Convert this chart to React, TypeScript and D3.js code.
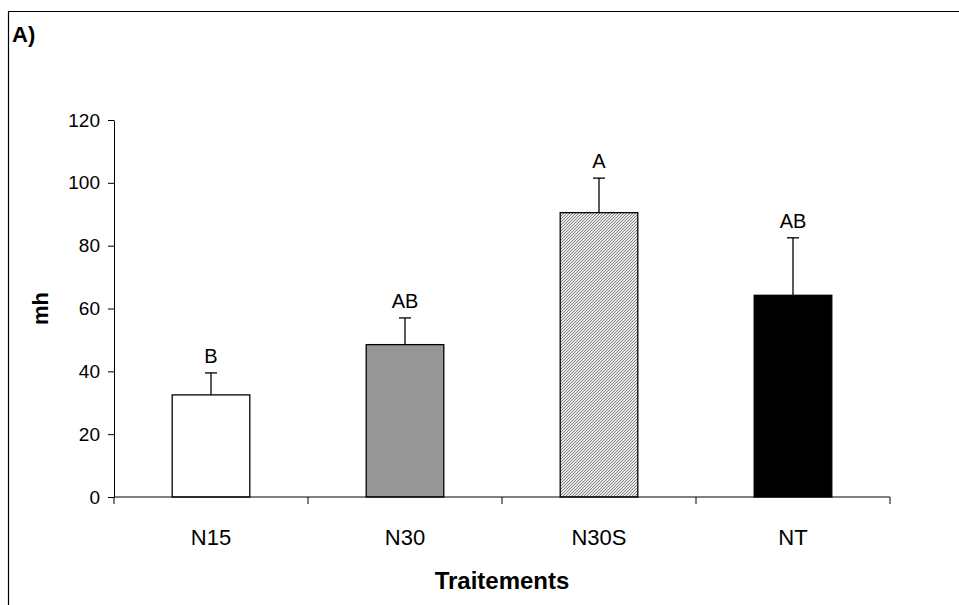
import React, { useEffect, useRef } from 'react';
import * as d3 from 'd3';

const categories = ['N15', 'N30', 'N30S', 'NT'];
const means = [32.5, 48.5, 90.5, 64.2];
const errors = [7, 8.5, 11, 18.3];
const letters = ['B', 'AB', 'A', 'AB'];
const fills = ['#ffffff', '#969696', 'url(#hatch)', '#000000'];
const yTicks = [0, 20, 40, 60, 80, 100, 120];

export default function App() {
  const svgRef = useRef<SVGSVGElement>(null);

  useEffect(() => {
    const svg = d3.select(svgRef.current);
    svg.selectAll('*').remove();
    const font = 'Liberation Sans, Arial, sans-serif';

    const W = 959, H = 605;
    svg.attr('width', W).attr('height', H).style('display', 'block');

    // fine diagonal hatch, reads as light grey
    const defs = svg.append('defs');
    const pat = defs.append('pattern')
      .attr('id', 'hatch')
      .attr('patternUnits', 'userSpaceOnUse')
      .attr('width', 3)
      .attr('height', 3);
    pat.append('rect').attr('width', 3).attr('height', 3).attr('fill', '#e8e8e8');
    pat.append('path')
      .attr('d', 'M-1,1 l2,-2 M0,3 l3,-3 M2,4 l2,-2')
      .attr('stroke', '#6a6a6a')
      .attr('stroke-width', 0.8);

    // outer frame (only top and left visible)
    svg.append('path')
      .attr('d', `M8.5,${H} L8.5,11.5 L${W},11.5`)
      .attr('fill', 'none')
      .attr('stroke', '#000')
      .attr('stroke-width', 1.2);

    svg.append('text')
      .attr('x', 12)
      .attr('y', 42)
      .style('font-family', font)
      .style('font-weight', 'bold')
      .style('font-size', '22px')
      .text('A)');

    const left = 114, right = 890, top = 120, bottom = 497;

    const x = d3.scaleBand().domain(categories).range([left, right]).paddingInner(0.6).paddingOuter(0.3);
    const xOuter = d3.scaleBand().domain(categories).range([left, right]).padding(0);
    const y = d3.scaleLinear().domain([0, 120]).range([bottom, top]);

    // y axis
    const yAxis = svg.append('g')
      .attr('transform', `translate(${left},0)`)
      .call(d3.axisLeft(y).tickValues(yTicks).tickSize(6).tickSizeOuter(0).tickPadding(8));
    yAxis.select('.domain').attr('stroke', '#000');
    yAxis.selectAll('text')
      .style('font-family', font)
      .style('font-size', '19px')
      .attr('fill', '#000');

    // bars + error bars + letters
    categories.forEach((c, i) => {
      const x0 = x(c)!;
      const bw = x.bandwidth();
      const cx = x0 + bw / 2;
      svg.append('line')
        .attr('x1', cx).attr('x2', cx)
        .attr('y1', y(means[i])).attr('y2', y(means[i] + errors[i]))
        .attr('stroke', '#000').attr('stroke-width', 1.3);
      svg.append('line')
        .attr('x1', cx - 6).attr('x2', cx + 6)
        .attr('y1', y(means[i] + errors[i])).attr('y2', y(means[i] + errors[i]))
        .attr('stroke', '#000').attr('stroke-width', 1.3);
      svg.append('rect')
        .attr('x', x0)
        .attr('y', y(means[i]))
        .attr('width', bw)
        .attr('height', bottom - y(means[i]))
        .attr('fill', fills[i])
        .attr('stroke', '#000')
        .attr('stroke-width', 1.3);
      svg.append('text')
        .attr('x', cx)
        .attr('y', y(means[i] + errors[i]) - 10)
        .attr('text-anchor', 'middle')
        .style('font-family', font)
        .style('font-size', '20px')
        .text(letters[i]);
    });

    // x axis
    const xAxisG = svg.append('g').attr('transform', `translate(0,${bottom})`);
    xAxisG.append('line')
      .attr('x1', left).attr('x2', right)
      .attr('y1', 0).attr('y2', 0)
      .attr('stroke', '#000');
    const bounds = categories.map(c => xOuter(c)!).concat([right]);
    xAxisG.selectAll('.xt')
      .data(bounds)
      .enter()
      .append('line')
      .attr('x1', d => d).attr('x2', d => d)
      .attr('y1', 0).attr('y2', 7)
      .attr('stroke', '#000');
    xAxisG.selectAll('.xl')
      .data(categories)
      .enter()
      .append('text')
      .attr('x', d => x(d)! + x.bandwidth() / 2)
      .attr('y', 48)
      .attr('text-anchor', 'middle')
      .style('font-family', font)
      .style('font-size', '22px')
      .text(d => d);

    svg.append('text')
      .attr('x', (left + right) / 2)
      .attr('y', 589)
      .attr('text-anchor', 'middle')
      .style('font-family', font)
      .style('font-weight', 'bold')
      .style('font-size', '24px')
      .text('Traitements');

    svg.append('text')
      .attr('transform', `translate(48,${(top + bottom) / 2}) rotate(-90)`)
      .attr('text-anchor', 'middle')
      .style('font-family', font)
      .style('font-weight', 'bold')
      .style('font-size', '22px')
      .text('mh');
  }, []);

  return (
    <div style={{ position: 'absolute', left: 0, top: 0 }}>
      <svg ref={svgRef} />
    </div>
  );
}
